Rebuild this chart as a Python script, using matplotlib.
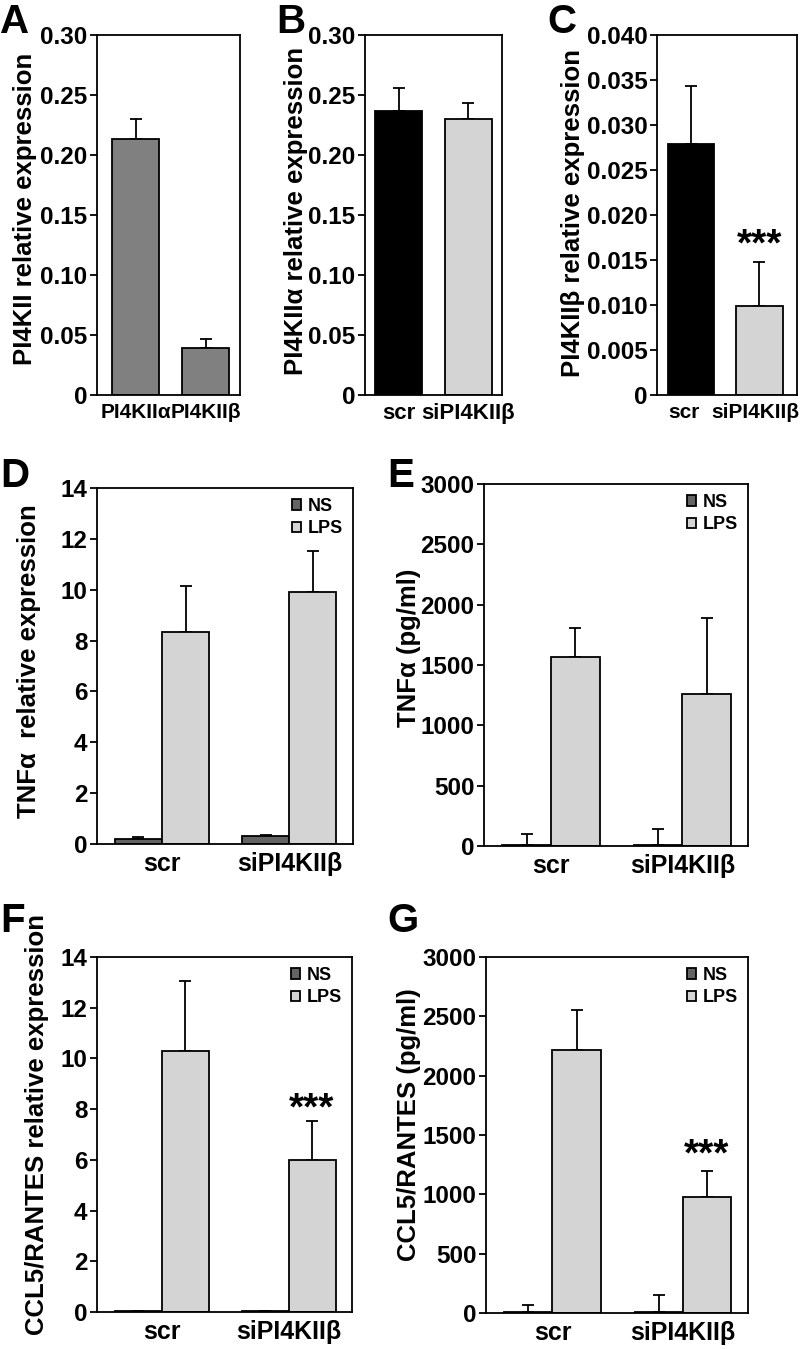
import matplotlib
matplotlib.use("Agg")
import matplotlib.pyplot as plt
import matplotlib.transforms as mtransforms
import numpy as np

plt.rcParams["font.family"] = ["Liberation Sans", "DejaVu Sans"]
plt.rcParams["font.weight"] = "bold"
plt.rcParams["axes.labelweight"] = "bold"

W, H = 800, 1349

# A: endogenous expression of both isoforms
a_labels = ["PI4KIIα", "PI4KIIβ"]
a_vals = [0.213, 0.039]
a_err = [0.017, 0.008]

# B, C: knockdown of PI4KIIβ
kd_labels = ["scr", "siPI4KIIβ"]
b_vals = [0.237, 0.230]
b_err = [0.019, 0.013]
c_vals = [0.0279, 0.0099]
c_err = [0.0064, 0.0049]

# D-G: NS vs LPS stimulation
groups = ["scr", "siPI4KIIβ"]
series = ["NS", "LPS"]
d_ns, d_ns_err = [0.21, 0.30], [0.06, 0.05]
d_lps, d_lps_err = [8.32, 9.91], [1.84, 1.61]
e_ns, e_ns_err = [5, 5], [97, 139]
e_lps, e_lps_err = [1564, 1259], [241, 629]
f_ns, f_ns_err = [0.05, 0.05], [0.0, 0.0]
f_lps, f_lps_err = [10.29, 5.99], [2.75, 1.54]
g_ns, g_ns_err = [5, 5], [60, 144]
g_lps, g_lps_err = [2219, 978], [337, 216]

GREY = "#808080"
DARK = "#646464"
LIGHT = "#d4d4d4"
EB = dict(ecolor="black", elinewidth=1.3, capsize=4, capthick=1.3)
YLAB = 18.5


def px_axes(fig, left, top, right, bottom):
    return fig.add_axes([left / W, 1 - bottom / H, (right - left) / W, (bottom - top) / H])


def style(ax, ymax, step, fmt):
    ax.set_ylim(0, ymax)
    ticks = np.arange(0, ymax + step / 2, step)
    ax.set_yticks(ticks)
    ax.set_yticklabels(["0" if t == 0 else fmt.format(t) for t in ticks])
    for sp in ax.spines.values():
        sp.set_linewidth(1.3)
    ax.tick_params(axis="y", direction="out", length=5, width=1.3, labelsize=17.5, pad=2)
    ax.tick_params(axis="x", length=0, pad=6)


def simple_panel(ax, labels, vals, err, colors, xlim, xfs):
    x = np.arange(len(vals))
    ax.bar(x, vals, width=0.68, color=colors, edgecolor="black", linewidth=1.3, zorder=2)
    ax.errorbar(x, vals, yerr=[[0] * len(vals), err], fmt="none", zorder=1, **EB)
    ax.set_xticks(x)
    ax.set_xticklabels(labels, fontsize=xfs)
    ax.set_xlim(*xlim)


def grouped_panel(ax, ns, ns_err, lps, lps_err):
    x = np.arange(len(groups))
    w = 0.37
    ax.bar(x - w / 2, ns, width=w, color=DARK, edgecolor="black", linewidth=1.3,
           label=series[0], zorder=2)
    ax.bar(x + w / 2, lps, width=w, color=LIGHT, edgecolor="black", linewidth=1.3,
           label=series[1], zorder=2)
    ax.errorbar(x - w / 2, ns, yerr=[[0, 0], ns_err], fmt="none", zorder=1, **EB)
    ax.errorbar(x + w / 2, lps, yerr=[[0, 0], lps_err], fmt="none", zorder=1, **EB)
    ax.set_xticks(x)
    ax.set_xticklabels(groups, fontsize=18)
    ax.set_xlim(-0.51, 1.50)
    ax.legend(loc="upper right", frameon=False, fontsize=13, handlelength=0.55,
              handleheight=0.55, handletextpad=0.35, labelspacing=0.3,
              borderaxespad=0.25, borderpad=0.3)
    return x + w / 2


fig = plt.figure(figsize=(W / 100, H / 100), dpi=100)

# A
ax = px_axes(fig, 97, 35, 240, 395)
simple_panel(ax, a_labels, a_vals, a_err, [GREY, GREY], (-0.55, 1.49), 15)
style(ax, 0.30, 0.05, "{:.2f}")
ax.set_ylabel("PI4KII relative expression", fontsize=YLAB, va="center")
ax.yaxis.set_label_coords(-0.50, 0.517)

# B
ax = px_axes(fig, 365, 35, 502, 395)
simple_panel(ax, kd_labels, b_vals, b_err, ["black", LIGHT], (-0.49, 1.49), 16)
style(ax, 0.30, 0.05, "{:.2f}")
ax.set_ylabel("PI4KIIα relative expression", fontsize=YLAB, va="center")
ax.yaxis.set_label_coords(-0.50, 0.51)

# C
ax = px_axes(fig, 657, 35, 797, 395)
simple_panel(ax, kd_labels, c_vals, c_err, ["black", LIGHT], (-0.5, 1.55), 15)
style(ax, 0.040, 0.005, "{:.3f}")
ax.set_ylabel("PI4KIIβ relative expression", fontsize=YLAB, va="center")
ax.yaxis.set_label_coords(-0.60, 0.505)
ax.text(1, 0.0166, "***", ha="center", va="center", fontsize=28)
# nudge the x labels left so the long one stays inside the figure edge
for lab, dx in zip(ax.get_xticklabels(), [-7, -4]):
    lab.set_transform(lab.get_transform()
                      + mtransforms.ScaledTranslation(dx / 100, 0, fig.dpi_scale_trans))

# D
ax = px_axes(fig, 97, 488, 353, 844)
grouped_panel(ax, d_ns, d_ns_err, d_lps, d_lps_err)
style(ax, 14, 2, "{:.0f}")
ax.set_ylabel("TNFα  relative expression", fontsize=YLAB, va="center")
ax.yaxis.set_label_coords(-0.266, 0.514)

# E
ax = px_axes(fig, 484, 484, 748, 846)
grouped_panel(ax, e_ns, e_ns_err, e_lps, e_lps_err)
style(ax, 3000, 500, "{:.0f}")
ax.set_ylabel("TNFα (pg/ml)", fontsize=YLAB, va="center")
ax.yaxis.set_label_coords(-0.284, 0.547)

# F
ax = px_axes(fig, 97, 957, 352, 1312)
xs = grouped_panel(ax, f_ns, f_ns_err, f_lps, f_lps_err)
style(ax, 14, 2, "{:.0f}")
ax.set_ylabel("CCL5/RANTES relative expression", fontsize=YLAB, va="center")
ax.yaxis.set_label_coords(-0.235, 0.527)
ax.text(xs[1], 7.98, "***", ha="center", va="center", fontsize=28)

# G
ax = px_axes(fig, 486, 957, 748, 1313)
xs = grouped_panel(ax, g_ns, g_ns_err, g_lps, g_lps_err)
style(ax, 3000, 500, "{:.0f}")
ax.set_ylabel("CCL5/RANTES (pg/ml)", fontsize=YLAB, va="center")
ax.yaxis.set_label_coords(-0.294, 0.528)
ax.text(xs[1], 1325, "***", ha="center", va="center", fontsize=28)

# panel letters
for letter, x, y in [("A", 0, 33), ("B", 276, 33), ("C", 547, 33), ("D", 0, 487),
                     ("E", 387, 487), ("F", 0, 932), ("G", 387, 932)]:
    fig.text(x / W, 1 - y / H, letter, fontsize=29, fontweight="bold", va="baseline")

fig.savefig("out.png", dpi=100)
